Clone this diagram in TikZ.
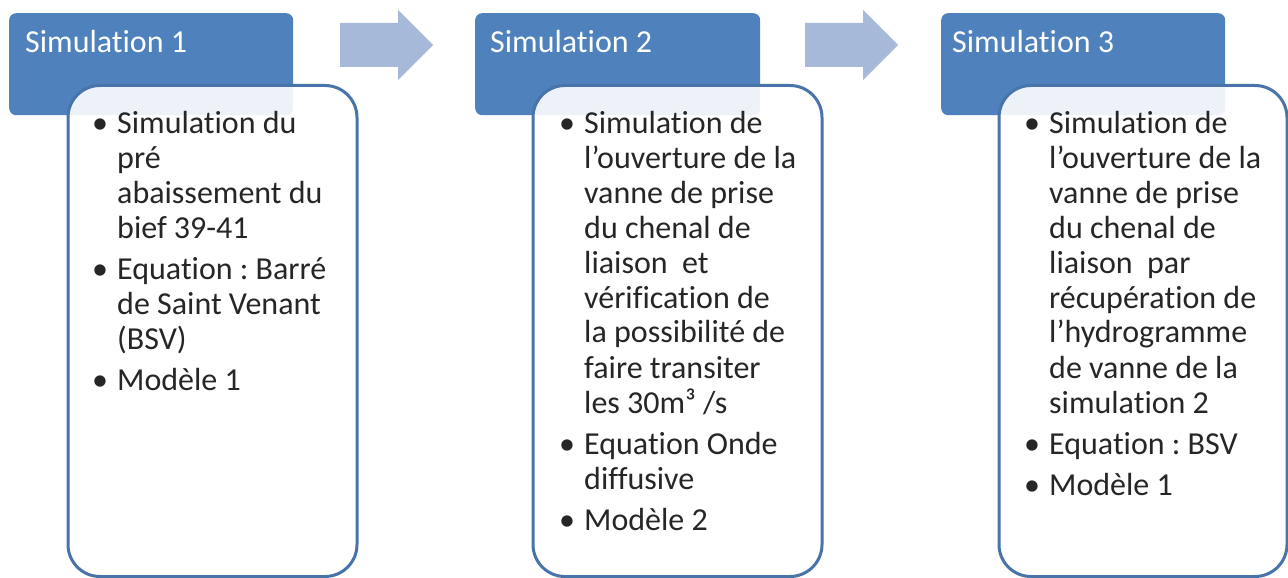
\documentclass[tikz,border=0pt]{standalone}
\usepackage{fontspec}
\setmainfont[Ligatures=NoCommon]{Carlito}
\definecolor{hdr}{RGB}{79,129,189}
\definecolor{brd}{RGB}{72,116,170}
\definecolor{arr}{RGB}{167,185,217}
\definecolor{txt}{RGB}{38,38,38}
\newcommand\bitem[1]{\hbox{\makebox[25pt][l]{\textbullet}#1}}
\newcommand\bline[1]{\hbox{\hspace{25pt}#1}}
\newcommand\igap{\vskip6pt}
\frenchspacing
\tikzset{
  header/.style={fill=hdr, draw=none, rounded corners=7pt, anchor=north west, minimum height=102pt, inner sep=0pt},
  card/.style={draw=brd, line width=3pt, fill=white, fill opacity=0.9, rounded corners=32pt, anchor=north west, minimum height=491pt, inner sep=0pt},
  flow/.style={fill=arr, draw=none},
  htext/.style={font=\fontsize{32}{35}\selectfont, text=white, anchor=base west, inner sep=0pt},
  btext/.style={font=\fontsize{32}{35}\selectfont, text=txt, anchor=base west, inner sep=0pt}
}
\begin{document}
\begin{tikzpicture}[x=1pt,y=-1pt]
\useasboundingbox[fill=white] (0,0) rectangle (1288,578);
% headers
\node[header, minimum width=284pt] (h1) at (9,13) {};
\node[header, minimum width=285pt] (h2) at (475,13) {};
\node[header, minimum width=284pt] (h3) at (941,13) {};
\node[htext] (s1) at (25,53) {Simulation 1};
\node[htext] (s2) at (490,53) {Simulation 2};
\node[htext] (s3) at (952,53) {Simulation 3};
% cards
\node[card, minimum width=289pt] (c1) at (66.5,84) {};
\node[card, minimum width=289pt] (c2) at (531.5,84) {};
\node[card, minimum width=288pt] (c3) at (997.5,84) {};
% arrows
\fill[flow] (340,23) -- (398,23) -- (398,10) -- (433,45) -- (398,80) -- (398,67) -- (340,67) -- cycle;
\fill[flow] (805,23) -- (863,23) -- (863,10) -- (898,45) -- (863,80) -- (863,67) -- (805,67) -- cycle;
% body texts
\node[btext] (b1) at (92,133) {\vtop{\baselineskip=35pt\lineskiplimit=-100pt
  \bitem{Simulation du}
  \bline{pré}
  \bline{abaissement du}
  \bline{bief 39-41}\igap
  \bitem{Equation : Barré}
  \bline{de Saint Venant}
  \bline{(BSV)}\igap
  \bitem{Modèle 1}}};
\node[btext] (b2) at (559,133) {\vtop{\baselineskip=35pt\lineskiplimit=-100pt
  \bitem{Simulation de}
  \bline{l’ouverture de la}
  \bline{vanne de prise}
  \bline{du chenal de}
  \bline{liaison\ \ et}
  \bline{vérification de}
  \bline{la possibilité de}
  \bline{faire transiter}
  \bline{les 30m³ /s}\igap
  \bitem{Equation Onde}
  \bline{diffusive}\igap
  \bitem{Modèle 2}}};
\node[btext] (b3) at (1024,133) {\vtop{\baselineskip=35pt\lineskiplimit=-100pt
  \bitem{Simulation de}
  \bline{l’ouverture de la}
  \bline{vanne de prise}
  \bline{du chenal de}
  \bline{liaison\ \ par}
  \bline{récupération de}
  \bline{l’hydrogramme}
  \bline{de vanne de la}
  \bline{simulation 2}\igap
  \bitem{Equation : BSV}\igap
  \bitem{Modèle 1}}};
\end{tikzpicture}
\end{document}
